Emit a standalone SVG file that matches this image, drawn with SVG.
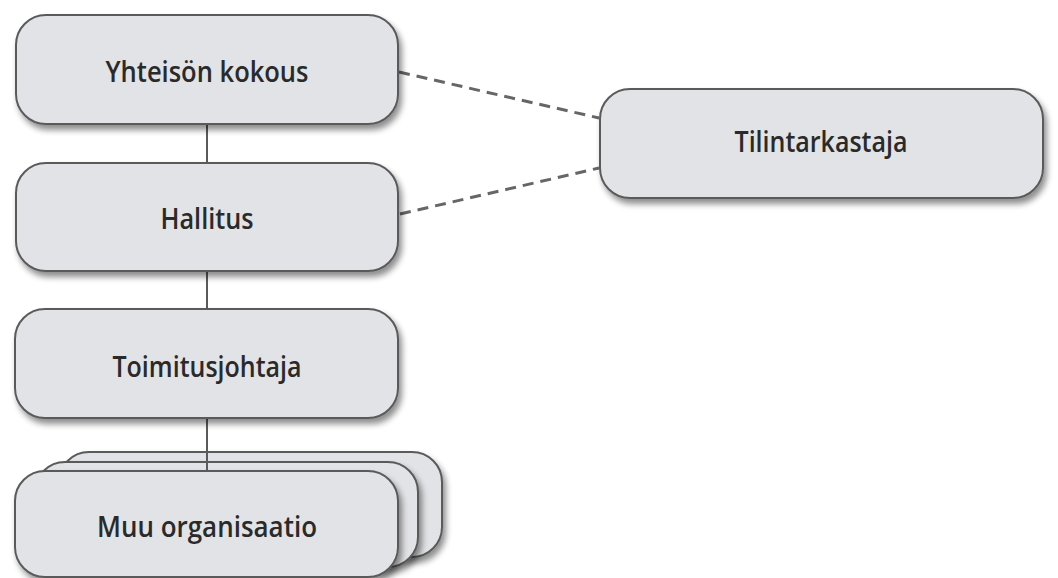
<svg xmlns="http://www.w3.org/2000/svg" width="1058" height="578" viewBox="0 0 1058 578">
<defs>
<filter id="sh" x="-10%" y="-20%" width="125%" height="150%">
<feGaussianBlur in="SourceAlpha" stdDeviation="3"/>
<feOffset dx="3" dy="5" result="b"/>
<feComponentTransfer><feFuncA type="linear" slope="0.45"/></feComponentTransfer>
<feMerge><feMergeNode/><feMergeNode in="SourceGraphic"/></feMerge>
</filter>
</defs>
<style>
.box{fill:#e2e3e6;stroke:#5a5a5a;stroke-width:2;filter:url(#sh)}
.lbl{font-family:"Open Sans","Noto Sans",sans-serif;font-size:28px;font-weight:600;fill:#2a2a2a;text-anchor:middle}
.solid{stroke:#5a5a5a;stroke-width:2;fill:none}
.dash{stroke:#666;stroke-width:3;stroke-dasharray:11 7;fill:none}
</style>
<rect width="1058" height="578" fill="#ffffff"/>
<g id="connectors">
<line class="solid" x1="207" y1="124" x2="207" y2="163"/>
<line class="solid" x1="207" y1="271" x2="207" y2="309"/>
<line class="solid" x1="207" y1="418" x2="207" y2="471"/>
<line class="dash" x1="399" y1="72" x2="599" y2="118"/>
<line class="dash" x1="400" y1="214" x2="599" y2="168"/>
</g>
<g id="yhteison-kokous">
<rect class="box" x="16" y="15" width="382" height="109" rx="30"/>
<text class="lbl" x="207" y="82" textLength="203" lengthAdjust="spacingAndGlyphs">Yhteisön kokous</text>
</g>
<g id="hallitus">
<rect class="box" x="16" y="163" width="382" height="108" rx="30"/>
<text class="lbl" x="207" y="229" textLength="93" lengthAdjust="spacingAndGlyphs">Hallitus</text>
</g>
<g id="toimitusjohtaja">
<rect class="box" x="15" y="309" width="383" height="109" rx="30"/>
<text class="lbl" x="207" y="377" textLength="189" lengthAdjust="spacingAndGlyphs">Toimitusjohtaja</text>
</g>
<g id="muu-organisaatio">
<rect class="box" x="59" y="452" width="383" height="105" rx="30"/>
<rect class="box" x="35" y="462" width="383" height="105" rx="30"/>
<line class="solid" x1="207" y1="452" x2="207" y2="471"/>
<rect class="box" x="15" y="471" width="383" height="106" rx="30"/>
<text class="lbl" x="207" y="537" textLength="220" lengthAdjust="spacingAndGlyphs">Muu organisaatio</text>
</g>
<g id="tilintarkastaja">
<rect class="box" x="600" y="89" width="443" height="109" rx="30"/>
<text class="lbl" x="821" y="152" textLength="173" lengthAdjust="spacingAndGlyphs">Tilintarkastaja</text>
</g>
</svg>
